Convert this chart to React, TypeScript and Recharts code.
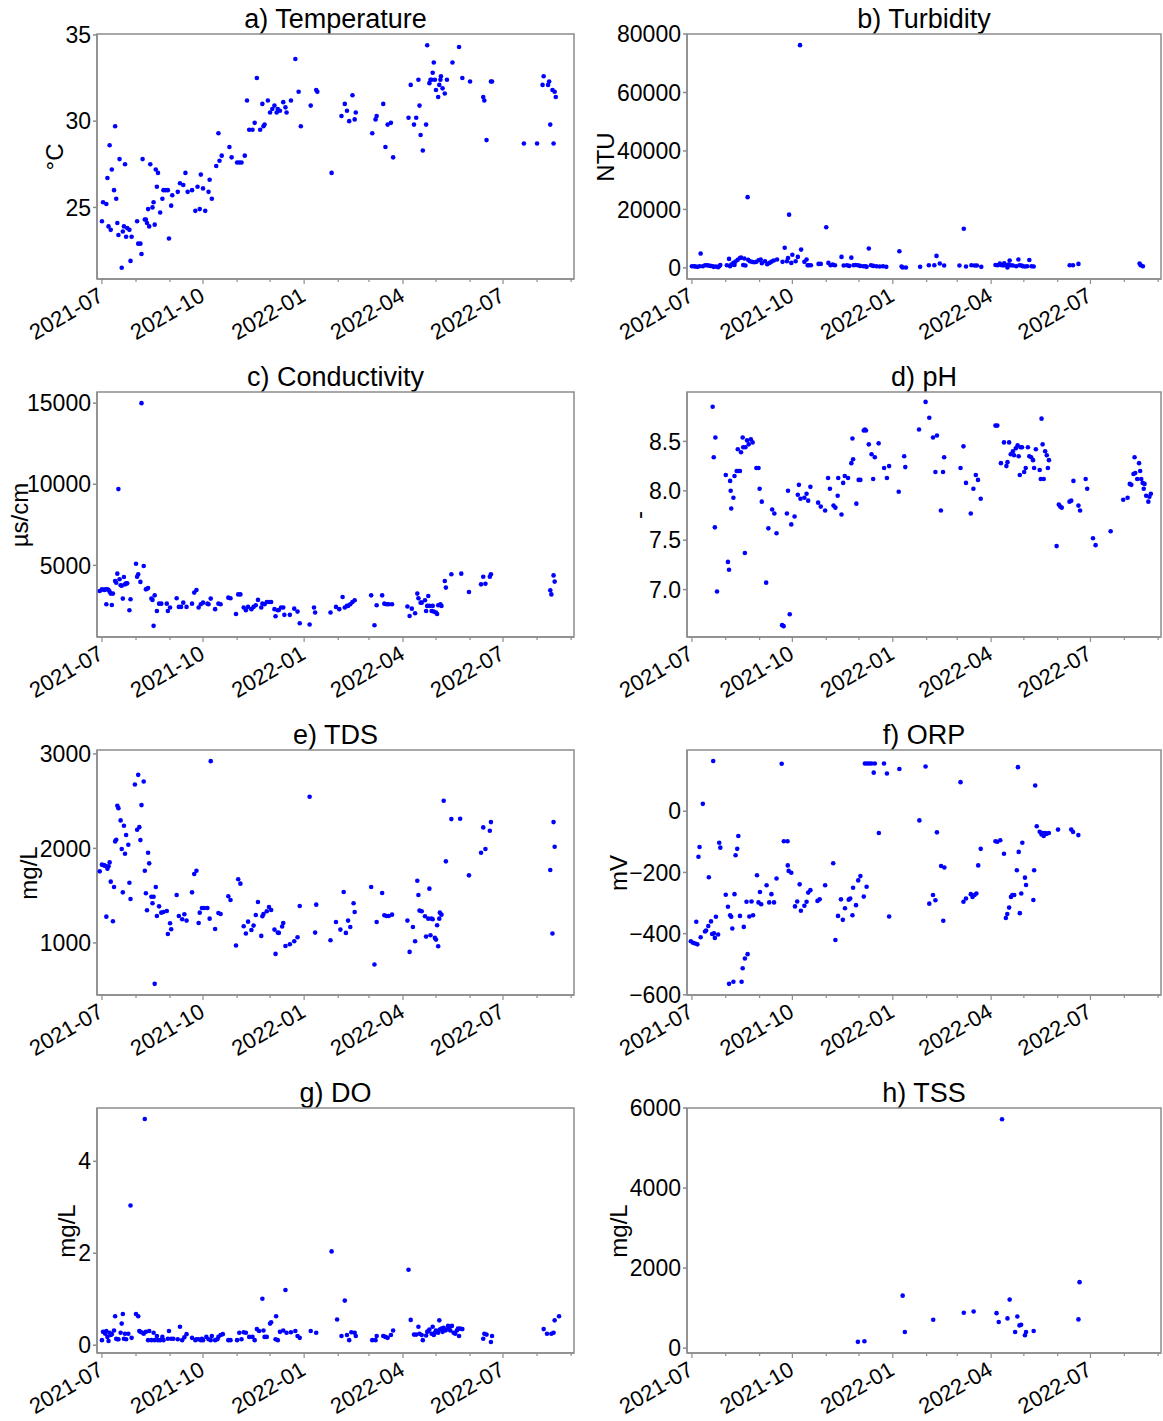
import { ScatterChart, Scatter, XAxis, YAxis, ReferenceArea } from "recharts";

const FONT = '"Liberation Sans", Arial, sans-serif';
const SPINE = "#8c8c8c";
const DOT = "#0000ff";

// x values are days counted from 2021-07-01
const DAY0 = Date.UTC(2021, 6, 1);
const DAY_MS = 86400000;
const X_DOMAIN: [number, number] = [-4.5, 429.6];
const MONTH_TICKS = Array.from({ length: 15 }, (_, m) => (Date.UTC(2021, 6 + m, 1) - DAY0) / DAY_MS);

type Pt = [number, number];

const temperature: Pt[] = [
  [0, 24.2], [1, 25.3], [4, 25.2], [5, 26.7], [6, 23.9], [7, 28.6], [8, 23.7], [9, 27.2], [11, 26.0], [12, 29.7],
  [13, 25.5], [14, 24.1], [15, 23.4], [16, 27.8], [18, 21.5], [19, 23.6], [20, 23.9], [21, 27.5], [22, 23.3], [23, 23.8],
  [25, 23.7], [26, 21.9], [27, 23.3], [32, 24.2], [33, 22.9], [35, 22.9], [36, 22.3], [37, 27.8], [39, 24.3], [40, 24.3],
  [41, 24.1], [42, 24.9], [43, 23.9], [44, 27.5], [46, 25.0], [47, 25.3], [48, 24.0], [49, 27.2], [50, 26.2], [51, 27.0],
  [53, 24.7], [55, 25.5], [56, 26.0], [58, 26.0], [60, 26.0], [61, 23.2], [63, 25.1], [64, 25.7], [69, 25.9], [71, 26.4],
  [74, 26.3], [76, 27.0], [78, 25.9], [82, 26.0], [85, 24.8], [87, 26.2], [89, 24.9], [90, 26.9], [92, 26.1], [94, 24.8],
  [97, 25.9], [98, 26.6], [100, 25.5], [104, 27.4], [106, 29.3], [107, 27.7], [109, 28.0], [116, 28.5], [118, 27.9], [123, 27.6],
  [125, 27.6], [127, 27.6], [130, 28.0], [132, 31.2], [134, 29.5], [137, 29.5], [139, 29.9], [141, 32.5], [144, 29.5], [146, 31.0],
  [147, 29.7], [148, 29.8], [151, 31.2], [153, 30.5], [155, 30.7], [157, 30.9], [159, 30.5], [160, 30.7], [162, 30.6], [165, 31.1],
  [167, 30.8], [168, 30.5], [172, 31.2], [176, 33.6], [179, 31.7], [181, 29.7], [190, 30.9], [195, 31.8], [196, 31.7], [209, 27.0],
  [218, 30.3], [221, 31.0], [223, 30.6], [225, 30.0], [228, 31.5], [230, 30.1], [231, 30.5], [246, 29.3], [249, 30.1], [250, 30.3],
  [256, 31.0], [258, 28.5], [260, 29.8], [263, 29.9], [265, 27.9], [279, 30.2], [281, 32.1], [284, 29.8], [286, 30.2], [288, 32.4],
  [289, 30.9], [290, 29.2], [292, 28.3], [295, 29.8], [296, 34.4], [298, 32.2], [299, 32.4], [300, 32.4], [301, 32.8], [302, 33.4],
  [303, 32.4], [304, 31.8], [306, 31.4], [307, 32.1], [308, 32.4], [308.5, 32.6], [310, 31.9], [312, 31.6], [314, 32.4], [319, 33.4],
  [325, 34.3], [328, 32.5], [335, 32.3], [347, 31.4], [348, 31.2], [350, 28.9], [354, 32.3], [355, 32.3], [384, 28.7], [396, 28.7],
  [401, 32.1], [402, 32.6], [406, 32.1], [407, 32.3], [408, 29.8], [410, 31.8], [411, 28.7], [412, 31.7], [413, 31.4],
];

const turbidity: Pt[] = [
  [0, 570], [2, 570], [3, 450], [5, 340], [7, 570], [8, 4900], [10, 570], [12, 900], [14, 900], [15, 800],
  [17, 680], [19, 570], [20, 340], [22, 450], [24, 230], [25, 570], [26, 1000], [32, 900], [34, 3070], [35, 570],
  [36, 1100], [38, 1700], [39, 1000], [40, 2150], [42, 2800], [44, 3400], [45, 3500], [47, 1000], [48, 3200], [49, 800],
  [51, 24200], [51.5, 2800], [53, 2270], [55, 2050], [57, 1900], [59, 2050], [61, 2600], [63, 2840], [64, 1600], [67, 2270],
  [69, 1250], [71, 1700], [73, 2150], [75, 2500], [78, 2840], [83, 2050], [85, 6900], [87, 2270], [88, 3400], [89, 18200],
  [91, 1700], [92, 4500], [95, 2270], [97, 3750], [99, 76200], [100, 6250], [103, 2050], [105, 2840], [106, 900], [107, 900],
  [109, 900], [116, 1360], [118, 1360], [123, 13900], [125, 1700], [127, 900], [129, 1100], [131, 900], [137, 3750], [139, 800],
  [142, 900], [144, 680], [146, 3500], [148, 900], [150, 1000], [152, 900], [154, 680], [157, 570], [159, 570], [160, 340],
  [162, 6600], [164, 900], [166, 680], [169, 570], [172, 450], [175, 570], [178, 340], [190, 5700], [192, 450], [193, 100],
  [196, 100], [209, 340], [217, 900], [222, 900], [224, 4100], [227, 1480], [231, 800], [245, 800], [249, 13400], [251, 450],
  [256, 900], [259, 800], [261, 800], [265, 340], [278, 1000], [280, 900], [282, 1480], [283, 1000], [285, 800], [286, 1600],
  [288, 900], [289, 100], [290, 1100], [291, 2500], [292, 900], [294, 800], [297, 570], [299, 2840], [300, 900], [302, 800],
  [303, 570], [305, 450], [307, 570], [309, 2700], [311, 570], [313, 450], [346, 900], [349, 900], [354, 1360], [410, 1480],
  [411, 900], [413, 570],
];

const conductivity: Pt[] = [
  [-2, 3420], [0, 3520], [2, 3480], [3, 3520], [4, 2600], [5, 3520], [6, 3480], [7, 3380], [8, 3260], [9, 2560],
  [10, 3260], [12, 4040], [13, 3930], [14, 4490], [15, 9700], [16, 4140], [17, 3770], [18, 3750], [19, 2950], [20, 4280],
  [21, 3830], [22, 3890], [23, 3890], [25, 2230], [26, 2910], [31, 5100], [32, 4300], [33, 4450], [35, 3980], [36, 15000],
  [38, 4960], [40, 3520], [41, 3560], [42, 3600], [45, 2950], [46, 2870], [47, 1270], [48, 3150], [50, 2190], [52, 2640],
  [54, 2640], [59, 2640], [60, 2190], [62, 2400], [68, 2970], [70, 2440], [72, 2440], [74, 2700], [77, 2440], [82, 2640],
  [84, 3320], [86, 3480], [88, 2400], [90, 2600], [92, 2700], [96, 2640], [97, 2600], [99, 2950], [103, 2300], [106, 2640],
  [108, 2600], [115, 3010], [117, 2970], [122, 2000], [124, 3210], [126, 3210], [129, 2400], [131, 2230], [133, 2440], [136, 2300],
  [138, 2440], [140, 2540], [142, 2870], [145, 2400], [146, 2640], [148, 2600], [150, 2740], [152, 2740], [154, 2740], [157, 2300],
  [158, 1860], [160, 2230], [161, 2250], [163, 2400], [165, 2400], [166, 1950], [171, 1950], [175, 2330], [178, 2150], [180, 1430],
  [189, 1350], [193, 2400], [194, 2090], [208, 2090], [213, 2440], [216, 2300], [219, 3050], [221, 2400], [223, 2500], [224, 2500],
  [226, 2600], [228, 2740], [230, 2850], [245, 3150], [248, 1310], [250, 2540], [255, 3150], [257, 2640], [259, 2600], [261, 2600],
  [264, 2600], [278, 2460], [280, 1880], [282, 2330], [285, 2050], [287, 3260], [288, 2970], [290, 2700], [291, 2700], [294, 2850],
  [295, 2190], [296, 2500], [297, 3110], [298, 2500], [300, 2190], [301, 2500], [302, 2150], [304, 2090], [305, 2000], [306, 2540],
  [308, 2600], [309, 2500], [312, 4040], [313, 3630], [318, 4450], [327, 4490], [334, 3360], [345, 3830], [347, 4300], [349, 3870],
  [353, 4300], [354, 4450], [408, 3460], [409, 3210], [411, 4380], [412, 4000],
];

const ph: Pt[] = [
  [19, 8.85], [20, 8.34], [21, 7.63], [21.5, 8.54], [23, 6.98], [31, 8.16], [33, 7.28], [34, 7.2], [35, 8.1], [35.5, 8.0],
  [36, 7.82], [38, 7.93], [39, 8.15], [41, 8.2], [42, 8.42], [42.5, 8.2], [44, 8.2], [45, 8.39], [46.5, 8.54], [47, 8.44],
  [48.5, 7.37], [49, 8.44], [50.5, 8.51], [52, 8.47], [54, 8.52], [55.6, 8.49], [59, 8.23], [61, 8.23], [62, 8.02], [64, 7.89],
  [68, 7.07], [70, 7.62], [73.5, 7.81], [75.5, 7.77], [77.5, 7.57], [82.6, 6.64], [84, 6.63], [87, 7.77], [88, 8.0], [89.6, 6.75],
  [91, 7.66], [94, 7.74], [97, 7.96], [98, 8.06], [99.4, 7.92], [103, 7.93], [105, 7.97], [106.5, 7.9], [108.5, 8.04], [115.6, 7.88],
  [118, 7.84], [122, 7.8], [124.7, 8.13], [126.4, 8.02], [129.7, 7.85], [131.4, 7.83], [133.5, 7.95], [134, 8.13], [137, 7.76], [138.5, 8.08],
  [140, 8.15], [143, 8.13], [146, 8.28], [147, 8.53], [147.6, 8.32], [150.6, 7.87], [152.7, 8.11], [154.3, 8.11], [157.4, 8.61], [158.4, 8.62],
  [159.4, 8.61], [162, 8.47], [164.5, 8.37], [166, 8.12], [167.5, 8.34], [171, 8.48], [176, 8.23], [178.6, 8.13], [180.6, 8.25], [189.4, 7.99],
  [194.4, 8.35], [195.4, 8.24], [208, 8.62], [214, 8.9], [217.4, 8.74], [220.8, 8.54], [223, 8.19], [224.4, 8.56], [228, 7.8], [230, 8.19],
  [231, 8.34], [246, 8.23], [248.7, 8.45], [251, 8.08], [255.4, 7.77], [257.8, 8.02], [260, 8.16], [262, 8.11], [264.5, 7.92], [278, 8.66],
  [279.7, 8.66], [283, 8.28], [285.8, 8.49], [288, 8.25], [289, 8.29], [290.5, 8.49], [292, 8.37], [294, 8.4], [295, 8.36], [296.6, 8.43],
  [298.3, 8.46], [299.3, 8.35], [300.3, 8.16], [301, 8.44], [302.3, 8.44], [304.3, 8.19], [305.7, 8.23], [307.7, 8.44], [309, 8.35], [310.7, 8.34],
  [312.4, 8.31], [313.4, 8.23], [315, 8.42], [318.5, 8.21], [319.5, 8.12], [320.2, 8.73], [321.2, 8.47], [322.2, 8.12], [323.5, 8.4], [325, 8.36],
  [326, 8.23], [327, 8.31], [334, 7.44], [336, 7.86], [337.3, 7.84], [338.7, 7.83], [345.8, 7.89], [347.4, 7.9], [349.4, 8.1], [354, 7.85],
  [355.5, 7.8], [360.6, 8.12], [362, 8.02], [367.3, 7.52], [369.7, 7.45], [383.5, 7.59], [395, 7.91], [399, 7.93], [401, 8.07], [402.4, 8.06],
  [404.4, 8.17], [405.4, 8.34], [406, 8.18], [407.8, 8.12], [409.5, 8.28], [410.5, 8.2], [411.5, 8.12], [412.8, 8.08], [413.8, 8.02], [414.5, 8.07],
  [416, 7.95], [418, 7.89], [419, 7.94], [420.3, 7.97],
];

const tds: Pt[] = [
  [-2, 1757], [0, 1828], [2, 1820], [3, 1817], [4, 1278], [5, 1785], [6, 1810], [7, 1852], [8, 1648], [10, 1229],
  [11, 1592], [12, 2074], [13, 2092], [14, 2451], [15, 2426], [17, 2296], [18, 1993], [19, 1535], [20, 2239], [21, 1944],
  [22, 2141], [24, 2039], [25, 1637], [26, 1465], [30, 2676], [32, 2197], [33, 2778], [34, 2225], [35, 2088], [36, 2458],
  [38, 2708], [39, 1764], [40, 1525], [41, 1345], [42, 1954], [43, 1842], [45, 1489], [46, 1419], [47, 1489], [48, 567],
  [49, 1592], [50, 1285], [52, 1387], [54, 1320], [56, 1327], [59, 1338], [60, 1095], [62, 1208], [63, 1144], [68, 1507],
  [70, 1285], [73, 1250], [75, 1303], [77, 1236], [82, 1535], [84, 1729], [86, 1764], [88, 1211], [89, 1320], [91, 1370],
  [93, 1370], [96, 1370], [98, 1257], [99, 2923], [103, 1148], [106, 1317], [108, 1306], [115, 1493], [117, 1454], [122, 972],
  [124, 1673], [126, 1627], [129, 1176], [131, 1099], [133, 1225], [136, 1137], [138, 1183], [140, 1296], [142, 1433], [145, 1074],
  [146, 1282], [147, 1306], [150, 1335], [152, 1380], [154, 1349], [157, 1141], [158, 884], [160, 1109], [161, 1106], [164, 1173],
  [165, 1211], [167, 968], [171, 986], [175, 1018], [178, 1060], [180, 1391], [189, 2546], [194, 1109], [195, 1405], [208, 1028],
  [213, 1222], [217, 1141], [220, 1539], [222, 1106], [224, 1236], [226, 1169], [229, 1419], [230, 1327], [245, 1592], [248, 771],
  [250, 1222], [255, 1528], [257, 1292], [259, 1285], [261, 1285], [264, 1299], [278, 1236], [280, 905], [283, 1169], [285, 1018],
  [287, 1658], [288, 1507], [289, 1342], [291, 1335], [294, 1282], [295, 1067], [297, 1257], [298, 1574], [299, 1081], [300, 1257],
  [301, 1250], [303, 1053], [304, 1035], [305, 1187], [306, 965], [307, 1257], [307.5, 1320], [309, 1299], [311, 2504], [313, 1863],
  [318, 2310], [326, 2313], [334, 1715], [345, 1954], [347, 2222], [349, 1993], [353, 2187], [354, 2278], [408, 1771], [410, 1099],
  [411, 2278], [412, 2018],
];

const orp: Pt[] = [
  [-1, -425], [1, -430], [3, -432], [4, -361], [5, -435], [6, -149], [7, -117], [8, -412], [10, 24], [12, -393],
  [13, -390], [15, -375], [15.5, -216], [17.5, -360], [18.5, -401], [19.5, 164], [20.2, -399], [21, -414], [22, -345], [24, -403],
  [25, -103], [26, -119], [31, -273], [33, -312], [34, -564], [35, -340], [36, -345], [37, -383], [38, -557], [39, -271],
  [40, -144], [41.5, -123], [42.5, -81], [44, -342], [45.5, -557], [46.5, -513], [47.5, -378], [48.5, -481], [50, -296], [51, -467],
  [52.6, -344], [54.6, -295], [56, -340], [59.6, -209], [61, -298], [62.3, -264], [63.4, -304], [68.4, -242], [70.8, -298], [72.8, -271],
  [75.2, -298], [77.5, -220], [82.2, 155], [84.2, -98], [87.6, -98], [87.8, -177], [88.6, -195], [91, -201], [94.4, -311], [96.4, -295],
  [98.7, -239], [99.8, -325], [103, -309], [105, -296], [106.5, -266], [108.5, -258], [115, -293], [117, -288], [122, -242], [129.4, -170],
  [131.4, -421], [133.8, -342], [136.5, -288], [138.2, -355], [140.2, -317], [143.6, -289], [145, -285], [147, -340], [147.6, -250], [150.3, -307],
  [152.3, -226], [154.3, -212], [157.4, -279], [158.4, 156], [160, -247], [160.4, 156], [162.4, 156], [164.5, 156], [166.5, 126], [167.5, 156],
  [171.2, -71], [175.9, 156], [178.6, 123], [180.6, -344], [190, 138], [208.3, -30], [214, 146], [217.4, -302], [220.8, -274], [223, -291],
  [224.4, -69], [228.2, -179], [230.2, -358], [231.2, -184], [246, 95], [248.7, -296], [251, -285], [255.4, -271], [257, -280], [258.8, -274],
  [260.5, -269], [262.2, -177], [264.5, -123], [278, -98], [279.7, -100], [282.4, -95], [285.8, -139], [287.5, -349], [288.8, -336], [290.5, -315],
  [292.2, -280], [293.5, -274], [295.2, -274], [297.6, -193], [298.6, 144], [299.3, -133], [300.3, -333], [301.6, -269], [302.6, -103], [305, -217],
  [306, -241], [312.7, -290], [313.4, -193], [314.4, 84], [315.8, -49], [318.5, -67], [320.2, -76], [321.2, -71], [322.2, -81], [323.5, -71],
  [324.9, -74], [326.9, -71], [335.3, -60], [347.4, -60], [349.1, -68], [353.9, -78],
];

const dissolvedOxygen: Pt[] = [
  [0, 0.11], [1, 0.29], [3, 0.25], [4, 0.31], [5, 0.18], [6, 0.09], [7, 0.27], [8, 0.22], [9, 0.24], [11, 0.32],
  [12, 0.63], [13, 0.14], [14, 0.13], [15, 0.13], [17, 0.27], [18, 0.47], [19, 0.68], [20, 0.14], [21, 0.25], [22, 0.13],
  [24, 0.25], [26, 3.04], [27, 0.16], [31, 0.68], [33, 0.63], [34, 0.31], [35, 0.29], [37, 0.27], [38, 0.25], [39, 4.92],
  [40, 0.29], [42, 0.11], [43, 0.31], [45, 0.11], [47, 0.27], [48, 0.11], [50, 0.2], [51, 0.11], [53, 0.11], [55, 0.18],
  [56, 0.11], [60, 0.14], [61, 0.31], [63, 0.14], [65, 0.14], [69, 0.13], [71, 0.4], [73, 0.11], [75, 0.17], [77, 0.24],
  [82, 0.16], [85, 0.11], [86, 0.13], [88, 0.13], [90, 0.11], [91, 0.14], [92, 0.11], [95, 0.18], [97, 0.13], [99, 0.11],
  [100, 0.2], [103, 0.11], [105, 0.13], [106, 0.18], [108, 0.22], [110, 0.24], [115, 0.11], [117, 0.11], [123, 0.11], [125, 0.27],
  [127, 0.13], [129, 0.28], [131, 0.27], [134, 0.18], [137, 0.18], [139, 0.11], [141, 0.35], [143, 0.31], [146, 1.01], [147, 0.32],
  [148, 0.18], [150, 0.18], [153, 0.47], [154, 0.5], [158, 0.13], [158.5, 0.63], [160, 0.11], [162, 0.29], [165, 0.32], [167, 1.2],
  [168, 0.27], [172, 0.28], [176, 0.31], [178, 0.2], [180, 0.16], [190, 0.31], [195, 0.27], [209, 2.04], [214, 0.56], [218, 0.2],
  [221, 0.97], [223, 0.22], [225, 0.11], [227, 0.28], [230, 0.27], [231, 0.2], [246, 0.11], [249, 0.11], [250, 0.2], [256, 0.2],
  [258, 0.18], [260, 0.16], [263, 0.22], [265, 0.32], [279, 1.64], [281, 0.55], [284, 0.23], [286, 0.23], [288, 0.4], [289, 0.25],
  [291, 0.22], [292, 0.11], [295, 0.21], [296, 0.29], [297, 0.31], [298, 0.34], [300, 0.25], [301, 0.4], [302, 0.22], [303, 0.27],
  [304, 0.32], [306, 0.27], [307, 0.54], [307.5, 0.34], [309, 0.36], [310, 0.29], [311, 0.38], [312.5, 0.32], [314, 0.34], [315, 0.42],
  [316, 0.38], [317, 0.32], [318.5, 0.42], [320, 0.27], [321.5, 0.25], [323, 0.32], [324, 0.36], [325, 0.2], [326, 0.36], [328, 0.35],
  [347, 0.14], [348, 0.25], [350, 0.23], [354, 0.07], [355, 0.2], [402, 0.35], [405, 0.25], [409, 0.25], [411, 0.27], [412, 0.54],
  [416, 0.63],
];

const tss: Pt[] = [
  [152, 157], [158, 173], [193, 1312], [195, 404], [221, 710], [249, 883], [258, 916], [279, 875], [281, 652], [284, 5720],
  [289, 743], [291, 1213], [296, 404], [298, 792], [300, 569], [301.5, 586], [305, 322], [306, 404], [313, 429], [354, 718],
  [355, 1650],
];

const ticksA = [25, 30, 35];
const ticksB = [0, 20000, 40000, 60000, 80000];
const ticksC = [5000, 10000, 15000];
const ticksD = [7.0, 7.5, 8.0, 8.5];
const ticksE = [1000, 2000, 3000];
const ticksF = [-600, -400, -200, 0];
const ticksG = [0, 2, 4];
const ticksH = [0, 2000, 4000, 6000];

interface PanelDef {
  title: string;
  unit: string;
  data: Pt[];
  domain: [number, number];
  ticks: number[];
  digits: number;
  unitX: number;
}

const panels: PanelDef[] = [
  { title: "a) Temperature", unit: "°C", data: temperature, domain: [20.85, 35.05], ticks: ticksA, digits: 0, unitX: 55 },
  { title: "b) Turbidity", unit: "NTU", data: turbidity, domain: [-3810, 80010], ticks: ticksB, digits: 0, unitX: 606 },
  { title: "c) Conductivity", unit: "µs/cm", data: conductivity, domain: [584, 15686], ticks: ticksC, digits: 0, unitX: 20 },
  { title: "d) pH", unit: "-", data: ph, domain: [6.52, 9.0], ticks: ticksD, digits: 1, unitX: 639 },
  { title: "e) TDS", unit: "mg/L", data: tds, domain: [449, 3041], ticks: ticksE, digits: 0, unitX: 29 },
  { title: "f) ORP", unit: "mV", data: orp, domain: [-600.5, 200], ticks: ticksF, digits: 0, unitX: 619 },
  { title: "g) DO", unit: "mg/L", data: dissolvedOxygen, domain: [-0.17, 5.16], ticks: ticksG, digits: 0, unitX: 67 },
  { title: "h) TSS", unit: "mg/L", data: tss, domain: [-121, 6001], ticks: ticksH, digits: 0, unitX: 619 },
];

const ROW_TOP = [0, 358, 716, 1074];
const PLOT_TOP = 34;
const PLOT_H = 245;
const X_AXIS_H = 70;
const COLS = [
  { left: 0, width: 577, yAxisW: 97, right: 3 },
  { left: 580, width: 583, yAxisW: 107, right: 2 },
];

function DateTick(props: any) {
  const { x, y, payload } = props;
  const d = new Date(DAY0 + payload.value * DAY_MS);
  const month = d.getUTCMonth();
  const major = month % 3 === 0;
  const label = `${d.getUTCFullYear()}-${String(month + 1).padStart(2, "0")}`;
  return (
    <g>
      <line x1={x} x2={x} y1={y} y2={y + (major ? 5 : 3)} stroke={SPINE} strokeWidth={1.2} />
      {major && (
        <text
          transform={`translate(${x + 3},${y + 21}) rotate(-30)`}
          textAnchor="end"
          fontSize={22}
          fontFamily={FONT}
          fill="#000"
        >
          {label}
        </text>
      )}
    </g>
  );
}

const Dot = (props: any) => <circle cx={props.cx} cy={props.cy} r={2.3} fill={DOT} />;

function Panel({ p, index }: { p: PanelDef; index: number }) {
  const col = COLS[index % 2];
  const top = ROW_TOP[Math.floor(index / 2)];
  const pts = p.data.map(([x, y]) => ({ x, y }));
  const plotLeft = col.left + col.yAxisW;
  const plotRight = col.left + col.width - col.right;
  const fmt = (v: number) => v.toFixed(p.digits).replace("-", "\u2212");

  return (
    <>
      <div
        style={{
          position: "absolute",
          left: plotLeft,
          width: plotRight - plotLeft,
          top: top + PLOT_TOP - 28,
          textAlign: "center",
          fontFamily: FONT,
          fontSize: 27,
          lineHeight: "27px",
          color: "#000",
        }}
      >
        {p.title}
      </div>
      <div
        style={{
          position: "absolute",
          left: p.unitX - 100,
          width: 200,
          top: top + PLOT_TOP + PLOT_H / 2 - 14,
          height: 28,
          lineHeight: "28px",
          textAlign: "center",
          fontFamily: FONT,
          fontSize: 24,
          color: "#000",
          transform: "rotate(-90deg)",
        }}
      >
        {p.unit}
      </div>
      <div style={{ position: "absolute", left: col.left, top }}>
        <ScatterChart
          width={col.width}
          height={PLOT_TOP + PLOT_H + X_AXIS_H}
          margin={{ top: PLOT_TOP, right: col.right, bottom: 0, left: 0 }}
          style={{ overflow: "visible" }}
        >
          <XAxis
            dataKey="x"
            type="number"
            domain={X_DOMAIN}
            allowDataOverflow
            ticks={MONTH_TICKS}
            interval={0}
            tickSize={0}
            tickMargin={0}
            tickLine={false}
            tick={<DateTick />}
            height={X_AXIS_H}
            stroke={SPINE}
            strokeWidth={1.5}
          />
          <YAxis
            dataKey="y"
            type="number"
            domain={p.domain}
            allowDataOverflow
            ticks={p.ticks}
            interval={0}
            width={col.yAxisW}
            tickSize={4}
            tickMargin={2}
            tickFormatter={fmt}
            tick={{ fill: "#000", fontSize: 23, fontFamily: FONT }}
            stroke={SPINE}
            strokeWidth={1.5}
          />
          {/* frame around the plotting area */}
          <ReferenceArea
            x1={X_DOMAIN[0]}
            x2={X_DOMAIN[1]}
            y1={p.domain[0]}
            y2={p.domain[1]}
            fill="none"
            fillOpacity={0}
            stroke={SPINE}
            strokeWidth={1.5}
            strokeOpacity={1}
            ifOverflow="visible"
          />
          <Scatter data={pts} shape={Dot} isAnimationActive={false} />
        </ScatterChart>
      </div>
    </>
  );
}

export default function App() {
  return (
    <div style={{ position: "absolute", left: 0, top: 0, width: 1163, height: 1421, background: "#fff" }}>
      {panels.map((p, i) => (
        <Panel key={p.title} p={p} index={i} />
      ))}
    </div>
  );
}
